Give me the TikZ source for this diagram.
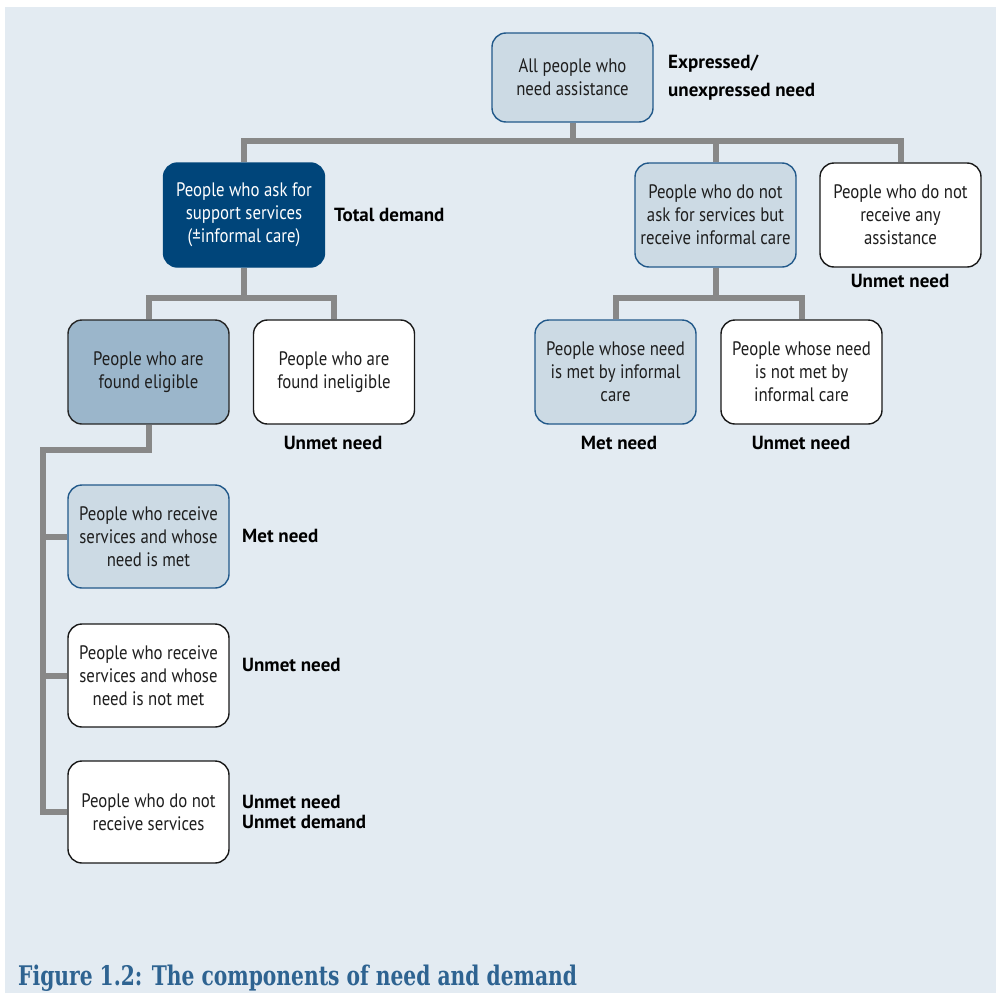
\documentclass[tikz,border=0pt]{standalone}
\usepackage{fontspec}
\setmainfont{PT Sans}[FakeStretch=0.86]
\newfontfamily\lblfont{PT Sans}
\newfontfamily\capfont{DejaVu Serif}[FakeStretch=0.75]
\usetikzlibrary{positioning}

\definecolor{bgblue}{HTML}{E3EBF2}
\definecolor{conngray}{HTML}{888888}
\definecolor{darkfill}{HTML}{00457A}
\definecolor{lightfill}{HTML}{CCDAE4}
\definecolor{midfill}{HTML}{9BB6CB}
\definecolor{boxedge}{HTML}{22598A}
\definecolor{boxtext}{HTML}{1E1E1E}
\definecolor{capblue}{HTML}{2E6391}

\tikzset{
  box/.style={rounded corners=14pt, minimum width=161pt, minimum height=104pt,
    inner sep=0pt, align=center, line width=1.4pt, text=boxtext,
    font=\fontsize{19.5}{23}\selectfont},
  lightbox/.style={box, draw=boxedge, fill=lightfill},
  darkbox/.style={box, draw=darkfill, fill=darkfill, text=white},
  midbox/.style={box, draw=black!85, fill=midfill},
  whitebox/.style={box, draw=black!90, fill=white},
  lbl/.style={font=\lblfont\bfseries\fontsize{19}{22}\selectfont, inner sep=0pt, align=left},
  conn/.style={draw=conngray, line width=6pt}
}

\begin{document}
\begin{tikzpicture}[x=1pt,y=-1pt]
\useasboundingbox (0,0) rectangle (998,993);
\fill[bgblue] (5,7) rectangle (996,993);

\node[lightbox, minimum height=89pt] (all) at (572.5,77.5) {All people who\\need assistance};
\node[lbl, anchor=west] (expr) at (668,78) {Expressed/\\[6pt]unexpressed need};

\node[darkbox] (ask) at (244,215) {People who ask for\\support services\\(±informal care)};
\node[lbl, anchor=west] (total) at (334,215) {Total demand};
\node[lightbox] (noask) at (715.5,215) {People who do not\\ask for services but\\receive informal care};
\node[whitebox] (none) at (900.5,215) {People who do not\\receive any\\assistance};
\node[lbl] (unmet1) at (900,281) {Unmet need};

\node[midbox] (elig) at (148.5,372) {People who are\\found eligible};
\node[whitebox] (inelig) at (334,372) {People who are\\found ineligible};
\node[lbl] (unmet2) at (333,443) {Unmet need};
\node[lightbox] (metinf) at (615.5,372) {People whose need\\is met by informal\\care};
\node[whitebox] (notinf) at (801.5,372) {People whose need\\is not met by\\informal care};
\node[lbl] (met1) at (619,443) {Met need};
\node[lbl] (unmet3) at (801,443) {Unmet need};

\node[lightbox, minimum height=103pt] (rec1) at (148.5,536.5) {People who receive\\services and whose\\need is met};
\node[lbl, anchor=west] (met2) at (242,536) {Met need};
\node[whitebox, minimum height=103pt] (rec2) at (148.5,675.5) {People who receive\\services and whose\\need is not met};
\node[lbl, anchor=west] (unmet4) at (242,665) {Unmet need};
\node[whitebox, minimum height=102pt] (rec3) at (148.5,812) {People who do not\\receive services};
\node[lbl, anchor=west] (unmet5) at (242,812) {Unmet need\\[-2pt]Unmet demand};

\coordinate (j1) at (572.5,141);
\coordinate (j2) at (244,298);
\coordinate (j3) at (715.5,298);
\coordinate (j4) at (43,450);

\draw[conn] (all.south) -- (j1);
\draw[conn] (ask.north) |- (j1) -| (none.north);
\draw[conn] (noask.north) -- (noask.north |- j1);

\draw[conn] (ask.south) -- (j2);
\draw[conn] (elig.north) |- (j2) -| (inelig.north);

\draw[conn] (noask.south) -- (j3);
\draw[conn] (metinf.north) |- (j3) -| (notinf.north);

\draw[conn] (elig.south) |- (j4) |- (rec3.west);
\draw[conn] (rec1.west) -- (rec1.west -| j4);
\draw[conn] (rec2.west) -- (rec2.west -| j4);

\node[anchor=base west, inner sep=0pt, text=capblue, font=\capfont\bfseries\fontsize{27}{30}\selectfont] (cap) at (18,985) {Figure 1.2: The components of need and demand};
\end{tikzpicture}
\end{document}
